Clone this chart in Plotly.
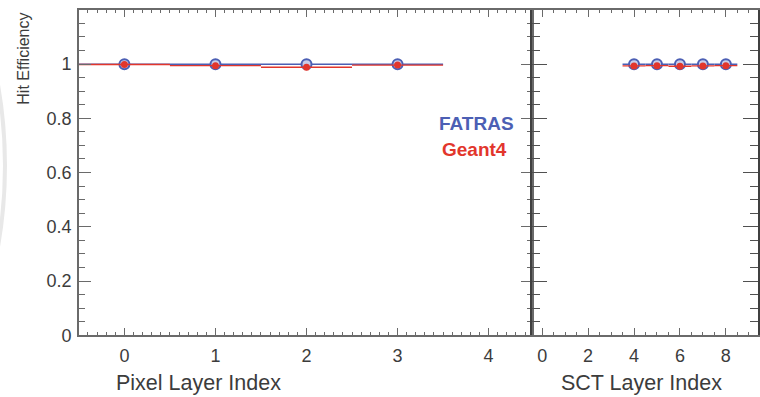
import plotly.graph_objects as go

# Layer indices and hit efficiencies
pixel_layers = [0, 1, 2, 3]
pixel_fatras = [0.999, 0.999, 0.999, 0.999]
pixel_geant4 = [0.998, 0.994, 0.988, 0.996]

sct_layers = [4, 5, 6, 7, 8]
sct_fatras = [0.999, 0.999, 0.999, 0.999, 0.999]
sct_geant4 = [0.993, 0.994, 0.992, 0.993, 0.994]

y_ticks = [0, 0.2, 0.4, 0.6, 0.8, 1]
y_ticklabels = ["0", "0.2", "0.4", "0.6", "0.8", "1"]

BLUE = "#4c5fb4"
RED = "#e2362c"
FONT = "Liberation Sans, Arial, Helvetica, sans-serif"
TXT = "#3c3c3c"
W, H = 760, 397

fig = go.Figure()


def add_series(xs, ys, color, fill, size, lw, xa, ya, name):
    fig.add_trace(go.Scatter(
        x=xs, y=ys, mode="markers", name=name, xaxis=xa, yaxis=ya,
        marker=dict(color=fill, symbol="circle", size=size,
                    line=dict(color=color, width=lw)),
        error_x=dict(type="constant", value=0.5, width=0, thickness=1.4, color=color),
        showlegend=False,
    ))


add_series(pixel_layers, pixel_fatras, BLUE, "#c9cde8", 10, 2, "x", "y", "FATRAS")
add_series(pixel_layers, pixel_geant4, RED, RED, 7, 0, "x", "y", "Geant4")
add_series(sct_layers, sct_fatras, BLUE, "#c9cde8", 10, 2, "x2", "y2", "FATRAS")
add_series(sct_layers, sct_geant4, RED, RED, 7, 0, "x2", "y2", "Geant4")

x_left = [79 / W, 533 / W]
x_right = [533 / W, 759 / W]
y_dom = [(H - 344) / H, (H - 10) / H]

axis_common = dict(showgrid=False, zeroline=False, showline=True,
                   linecolor="#6a6a6a", linewidth=1.5, ticks="inside",
                   tickcolor="#6a6a6a", mirror="ticks",
                   tickfont=dict(family=FONT, size=18, color=TXT))

fig.update_layout(
    width=W, height=H,
    margin=dict(l=0, r=0, t=0, b=0),
    paper_bgcolor="white", plot_bgcolor="white",
    xaxis=dict(domain=x_left, range=[-0.5, 4.48], anchor="y",
               tickmode="array", tickvals=[0, 1, 2, 3, 4],
               ticklen=8, tickwidth=1.2, ticklabelstandoff=3,
               minor=dict(dtick=0.1, ticklen=4, tickcolor="#6a6a6a", ticks="inside"),
               **axis_common),
    yaxis=dict(domain=y_dom, range=[0, 1.2], anchor="x",
               tickmode="array", tickvals=y_ticks, ticktext=y_ticklabels,
               ticklen=12, tickwidth=1.2, ticklabelstandoff=2,
               minor=dict(dtick=0.05, ticklen=6, tickcolor="#6a6a6a", ticks="inside"),
               **axis_common),
    xaxis2=dict(domain=x_right, range=[-0.43, 9.4], anchor="y2",
                tickmode="array", tickvals=[0, 2, 4, 6, 8],
                ticklen=8, tickwidth=1.2, ticklabelstandoff=3,
                minor=dict(dtick=0.5, ticklen=4, tickcolor="#6a6a6a", ticks="inside"),
                **axis_common),
    yaxis2=dict(domain=y_dom, range=[0, 1.2], anchor="x2",
                tickmode="array", tickvals=y_ticks, showticklabels=False,
                ticklen=15, tickwidth=1.4,
                minor=dict(dtick=0.05, ticklen=8, tickcolor="#505050", ticks="inside"),
                **{**axis_common, "linecolor": "#404040", "tickcolor": "#505050",
                   "linewidth": 1.8}),
)

# faint arc at the left margin
fig.add_shape(type="circle", xref="paper", yref="paper",
              x0=(-488 - 493) / W, x1=(-488 + 493) / W,
              y0=(H - 170 - 493) / H, y1=(H - 170 + 493) / H,
              line=dict(color="#e8e8e8", width=4), layer="below")

annotations = [
    dict(text="Hit Efficiency", x=24 / W, y=(H - 11) / H, textangle=-90,
         xanchor="center", yanchor="top",
         font=dict(family=FONT, size=16, color=TXT)),
    dict(text="Pixel Layer Index", x=199 / W, y=(H - 393) / H,
         xanchor="center", yanchor="middle",
         font=dict(family=FONT, size=21.5, color=TXT)),
    dict(text="SCT Layer Index", x=642 / W, y=(H - 393) / H,
         xanchor="center", yanchor="middle",
         font=dict(family=FONT, size=21.5, color=TXT)),
    dict(text="<b>FATRAS</b>", x=517 / W, y=(H - 127) / H,
         xanchor="right", yanchor="middle",
         font=dict(family=FONT, size=19, color=BLUE)),
    dict(text="<b>Geant4</b>", x=510 / W, y=(H - 153) / H,
         xanchor="right", yanchor="middle",
         font=dict(family=FONT, size=19, color=RED)),
]
for a in annotations:
    fig.add_annotation(xref="paper", yref="paper", showarrow=False, **a)

fig.write_html("out.html")
